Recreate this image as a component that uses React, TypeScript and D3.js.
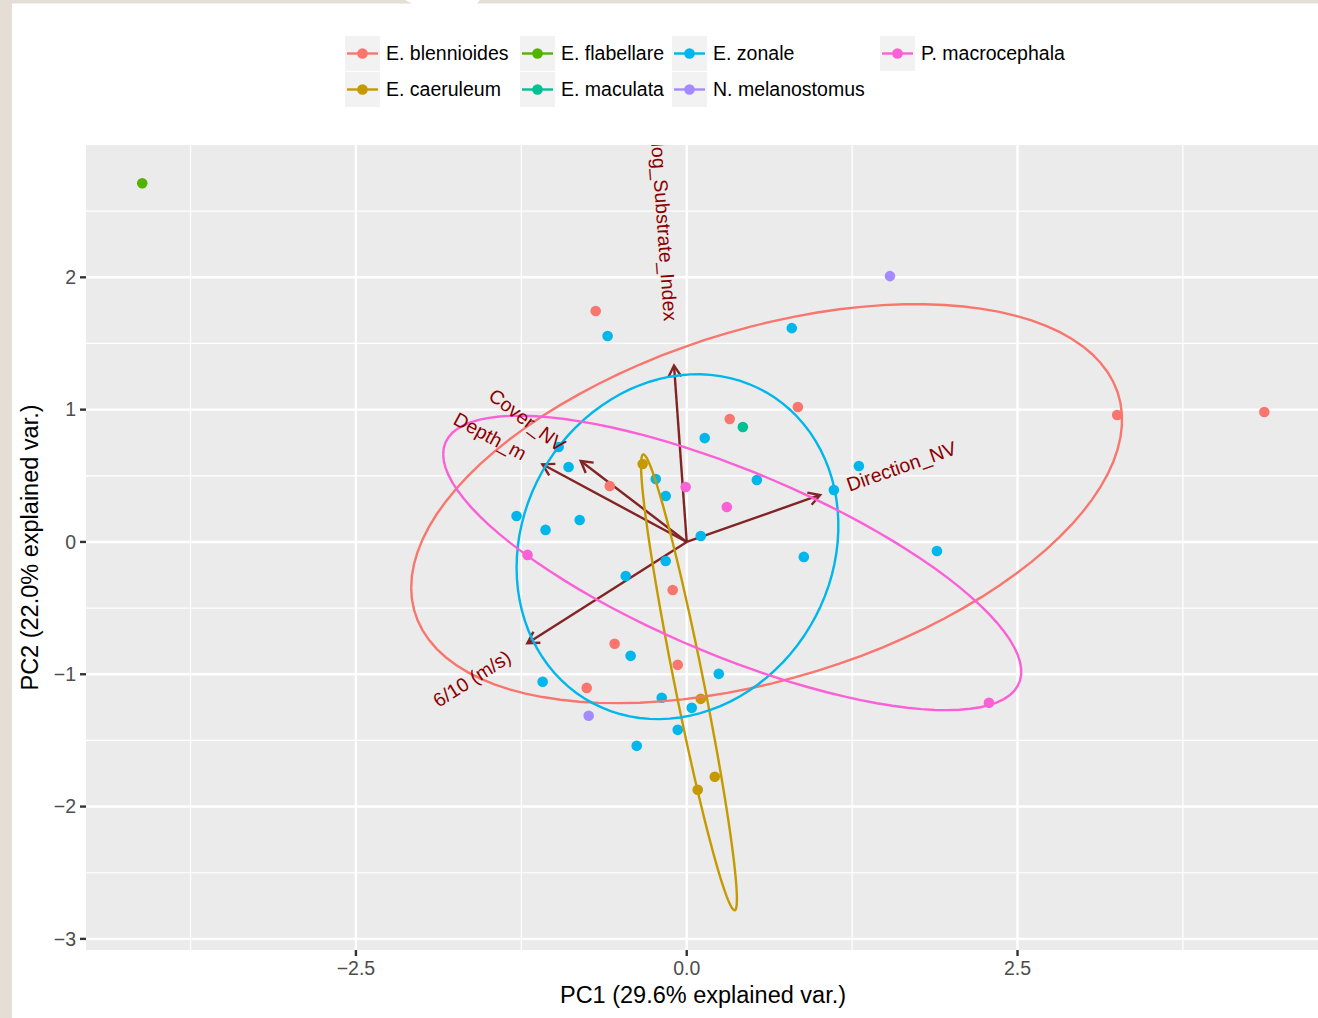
import React, { useMemo } from 'react';
import * as d3 from 'd3';

// ---------- data ----------
const species = [
  'E. blennioides',
  'E. caeruleum',
  'E. flabellare',
  'E. maculata',
  'E. zonale',
  'N. melanostomus',
  'P. macrocephala',
];
const speciesColors = ['#F8766D', '#C49A00', '#53B400', '#00C094', '#00B6EB', '#A58AFF', '#FB61D7'];

const blennioides: [number, number][] = [
  [-0.688, 1.745], [0.325, 0.929], [0.84, 1.02], [3.253, 0.959], [4.365, 0.982],
  [-0.582, 0.423], [-0.106, -0.363], [-0.545, -0.77], [-0.068, -0.929], [-0.756, -1.103],
];
const caeruleum: [number, number][] = [
  [-0.333, 0.589], [0.106, -1.186], [0.212, -1.775], [0.083, -1.873],
];
const flabellare: [number, number][] = [[-4.115, 2.711]];
const maculata: [number, number][] = [[0.424, 0.869]];
const zonale: [number, number][] = [
  [-0.598, 1.556], [0.794, 1.616], [0.136, 0.785], [-0.968, 0.718], [-0.893, 0.566],
  [-0.234, 0.476], [-0.159, 0.347], [0.53, 0.468], [1.301, 0.574], [1.112, 0.393],
  [-1.286, 0.196], [-1.067, 0.091], [-0.809, 0.166], [0.106, 0.045], [0.885, -0.113],
  [1.891, -0.068], [-0.461, -0.257], [-0.159, -0.144], [-0.424, -0.861], [0.242, -0.997],
  [-1.089, -1.057], [-0.189, -1.178], [0.038, -1.254], [-0.068, -1.42], [-0.378, -1.541],
];
const melanostomus: [number, number][] = [[1.536, 2.009], [-0.741, -1.314]];
const macrocephala: [number, number][] = [
  [-0.008, 0.415], [0.303, 0.264], [-1.203, -0.098], [2.284, -1.216],
];
const groupPoints = [blennioides, caeruleum, flabellare, maculata, zonale, melanostomus, macrocephala];

const variableNames = ['Depth_m', 'Cover_NV', 'log_Substrate_Index', 'Direction_NV', '6/10 (m/s)'];
const loadingPC1 = [-1.091, -0.801, -0.096, 1.008, -1.204];
const loadingPC2 = [0.587, 0.612, 1.333, 0.355, -0.766];

const xTicks = [-2.5, 0, 2.5];
const xTickLabels = ['\u22122.5', '0.0', '2.5'];
const xMinor = [-3.75, -1.25, 1.25, 3.75];
const yTicks = [-3, -2, -1, 0, 1, 2];
const yTickLabels = ['\u22123', '\u22122', '\u22121', '0', '1', '2'];
const yMinor = [-2.5, -1.5, -0.5, 0.5, 1.5, 2.5];

const xTitle = 'PC1 (29.6% explained var.)';
const yTitle = 'PC2 (22.0% explained var.)';

const xDomain = [-4.54, 4.786];
const yDomain = [-3.084, 3.0];
const ellipseProb = 0.68;

// ---------- layout ----------
const W = 1318;
const H = 1018;
const P = { left: 86, top: 145, right: 1320, bottom: 950 };
const FONT = '"Liberation Sans", Arial, Helvetica, sans-serif';
const legendColX = [345, 520, 672, 880];
const legendRowY = [36, 72];
const KEY = 35;
const VAR_FONT = 19.5;

function measure(text: string, size: number): number {
  const c = document.createElement('canvas').getContext('2d');
  if (!c) return text.length * size * 0.5;
  c.font = `${size}px "Liberation Sans", Arial, sans-serif`;
  return c.measureText(text).width;
}

function ellipseFor(pts: [number, number][]): [number, number][] | null {
  if (pts.length <= 2) return null;
  const n = pts.length;
  const mx = d3.mean(pts, (p) => p[0]) as number;
  const my = d3.mean(pts, (p) => p[1]) as number;
  let sxx = 0, syy = 0, sxy = 0;
  pts.forEach(([a, b]) => {
    sxx += (a - mx) * (a - mx);
    syy += (b - my) * (b - my);
    sxy += (a - mx) * (b - my);
  });
  sxx /= n - 1; syy /= n - 1; sxy /= n - 1;
  const r11 = Math.sqrt(sxx);
  const r12 = sxy / r11;
  const r22 = Math.sqrt(Math.max(syy - r12 * r12, 0));
  const ed = Math.sqrt(-2 * Math.log(1 - ellipseProb));
  const out: [number, number][] = [];
  for (let i = 0; i < 100; i++) {
    const t = -Math.PI + (2 * Math.PI * i) / 99;
    const c = Math.cos(t), s = Math.sin(t);
    out.push([mx + ed * c * r11, my + ed * (c * r12 + s * r22)]);
  }
  return out;
}

export default function App() {
  const x = d3.scaleLinear().domain(xDomain).range([P.left, P.right]);
  const y = d3.scaleLinear().domain(yDomain).range([P.bottom, P.top]);

  const line = d3
    .line<[number, number]>()
    .x((d) => x(d[0]))
    .y((d) => y(d[1]));

  const labelWidths = useMemo(() => variableNames.map((v) => measure(v, VAR_FONT)), []);

  const arrowColor = '#832424';
  const headLen = 13;

  return (
    <svg
      width={W}
      height={H}
      style={{ position: 'absolute', left: 0, top: 0, background: '#ffffff', fontFamily: FONT }}
    >
      <defs>
        <clipPath id="panelClip">
          <rect x={P.left} y={P.top} width={P.right - P.left} height={P.bottom - P.top} />
        </clipPath>
      </defs>
      <rect x={0} y={0} width={W} height={H} fill="#ffffff" />
      {/* frame */}
      <rect x={0} y={0} width={12} height={H} fill="#e4ded4" />
      <polygon points="0,0 405,0 412,3.5 0,3.5" fill="#e4ded4" />
      <polygon points="480,0 1318,0 1318,3.5 477,3.5" fill="#e4ded4" />

      {/* panel */}
      <rect x={P.left} y={P.top} width={P.right - P.left} height={P.bottom - P.top} fill="#ebebeb" />
      <g clipPath="url(#panelClip)">
        {xMinor.map((v) => (
          <line key={'xm' + v} x1={x(v)} x2={x(v)} y1={P.top} y2={P.bottom} stroke="#ffffff" strokeWidth={1.2} />
        ))}
        {yMinor.map((v) => (
          <line key={'ym' + v} x1={P.left} x2={P.right} y1={y(v)} y2={y(v)} stroke="#ffffff" strokeWidth={1.2} />
        ))}
        {xTicks.map((v) => (
          <line key={'xg' + v} x1={x(v)} x2={x(v)} y1={P.top} y2={P.bottom} stroke="#ffffff" strokeWidth={2.4} />
        ))}
        {yTicks.map((v) => (
          <line key={'yg' + v} x1={P.left} x2={P.right} y1={y(v)} y2={y(v)} stroke="#ffffff" strokeWidth={2.4} />
        ))}

        {/* arrows */}
        {variableNames.map((name, i) => {
          const x0 = x(0), y0 = y(0);
          const tx = x(loadingPC1[i]), ty = y(loadingPC2[i]);
          const ang = Math.atan2(ty - y0, tx - x0);
          const a1 = ang + Math.PI - Math.PI / 6;
          const a2 = ang + Math.PI + Math.PI / 6;
          const d = `M${tx + headLen * Math.cos(a1)},${ty + headLen * Math.sin(a1)} L${tx},${ty} L${tx + headLen * Math.cos(a2)},${ty + headLen * Math.sin(a2)}`;
          return (
            <g key={'ar' + name} stroke={arrowColor} strokeWidth={2.4} fill="none">
              <line x1={x0} y1={y0} x2={tx} y2={ty} />
              <path d={d} />
            </g>
          );
        })}

        {/* points */}
        {groupPoints.map((pts, gi) =>
          pts.map((p, j) => (
            <circle key={'pt' + gi + '-' + j} cx={x(p[0])} cy={y(p[1])} r={5.3} fill={speciesColors[gi]} />
          ))
        )}

        {/* ellipses */}
        {groupPoints.map((pts, gi) => {
          const e = ellipseFor(pts);
          if (!e) return null;
          return (
            <path key={'el' + gi} d={line(e) || ''} fill="none" stroke={speciesColors[gi]} strokeWidth={2.4} />
          );
        })}

        {/* variable labels */}
        {variableNames.map((name, i) => {
          const px = x(loadingPC1[i]);
          const py = y(loadingPC2[i]);
          const angle = (Math.atan(loadingPC2[i] / loadingPC1[i]) * 180) / Math.PI;
          const hjust = (1 - 1.5 * Math.sign(loadingPC1[i])) / 2;
          return (
            <text
              key={'lb' + name}
              transform={`translate(${px},${py}) rotate(${-angle})`}
              x={-hjust * labelWidths[i]}
              dy="0.35em"
              fontSize={VAR_FONT}
              fill="#8B0000"
            >
              {name}
            </text>
          );
        })}
      </g>

      {/* axes ticks */}
      {xTicks.map((v, i) => (
        <g key={'xt' + v}>
          <line x1={x(v)} x2={x(v)} y1={P.bottom} y2={P.bottom + 6} stroke="#333333" strokeWidth={2.4} />
          <text x={x(v)} y={P.bottom + 25} textAnchor="middle" fontSize={19.5} fill="#4d4d4d">
            {xTickLabels[i]}
          </text>
        </g>
      ))}
      {yTicks.map((v, i) => (
        <g key={'yt' + v}>
          <line x1={P.left - 6} x2={P.left} y1={y(v)} y2={y(v)} stroke="#333333" strokeWidth={2.4} />
          <text x={P.left - 10} y={y(v)} dy="0.35em" textAnchor="end" fontSize={19.5} fill="#4d4d4d">
            {yTickLabels[i]}
          </text>
        </g>
      ))}

      {/* axis titles */}
      <text x={(P.left + P.right) / 2} y={1003} textAnchor="middle" fontSize={23.5} fill="#000000">
        {xTitle}
      </text>
      <text
        transform={`translate(38,${(P.top + P.bottom) / 2}) rotate(-90)`}
        textAnchor="middle"
        fontSize={23.5}
        fill="#000000"
      >
        {yTitle}
      </text>

      {/* legend */}
      {species.map((s, i) => {
        const col = Math.floor(i / 2);
        const row = i % 2;
        const kx = legendColX[col];
        const ky = legendRowY[row];
        return (
          <g key={'lg' + s}>
            <rect x={kx} y={ky} width={KEY} height={KEY} fill="#f2f2f2" />
            <line x1={kx + 2} x2={kx + KEY - 2} y1={ky + KEY / 2} y2={ky + KEY / 2} stroke={speciesColors[i]} strokeWidth={2.4} />
            <circle cx={kx + KEY / 2} cy={ky + KEY / 2} r={5.3} fill={speciesColors[i]} />
            <text x={kx + 41} y={ky + KEY / 2} dy="0.35em" fontSize={19.5} fill="#000000">
              {s}
            </text>
          </g>
        );
      })}
    </svg>
  );
}
